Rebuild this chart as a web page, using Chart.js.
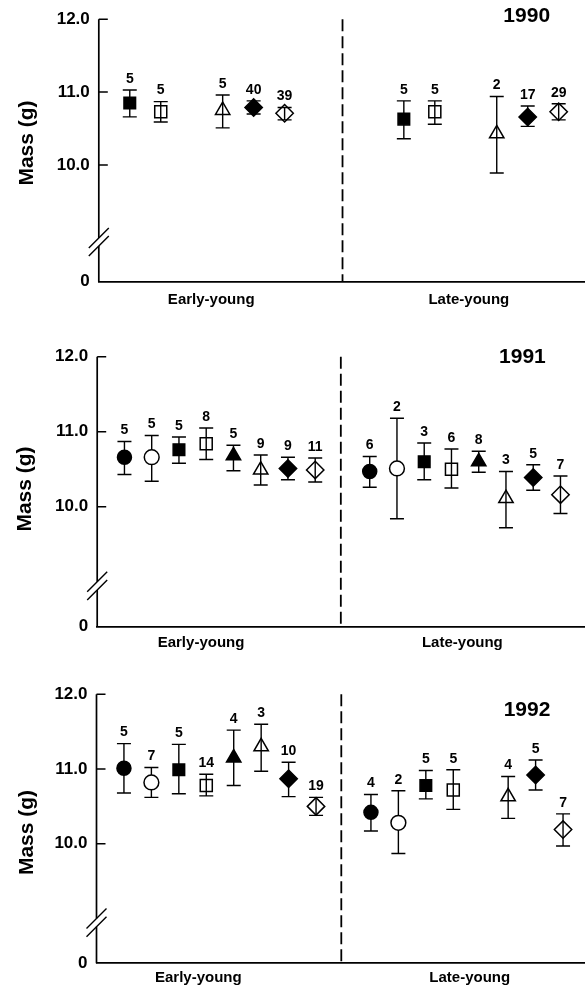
<!DOCTYPE html>
<html><head><meta charset="utf-8">
<script src="https://cdn.jsdelivr.net/npm/chart.js@4.4.0/dist/chart.umd.min.js"></script>
<style>
html,body{margin:0;padding:0;background:#fff;}
#wrap{position:relative;width:585px;height:989px;overflow:hidden;background:#fff;}
.panel{position:absolute;left:0;width:585px;}
canvas{display:block;}
</style></head><body>
<div id="wrap">
<div class="panel" style="top:0;height:320px"><canvas id="c1990" width="585" height="320"></canvas></div>
<div class="panel" style="top:320px;height:340px"><canvas id="c1991" width="585" height="340"></canvas></div>
<div class="panel" style="top:660px;height:329px"><canvas id="c1992" width="585" height="329"></canvas></div>
</div>
<script>
// ---------- DATA ----------
const markerTypes = ['Filled circle','Open circle','Filled square','Open square','Filled triangle','Open triangle','Filled diamond','Open diamond'];
const groupLabels = ['Early-young','Late-young'];
const years = ['1990','1991','1992'];
const yTickValues = [8.4, 10, 11, 12];      // 8.4 = bottom of broken axis, labelled "0"
const yTickLabels = ['0','10.0','11.0','12.0'];
const yAxisLabel = 'Mass (g)';

// 1990
const mean1990Early = [null, null, 10.85, 10.73, null, 10.75, 10.79, 10.71];
const low1990Early  = [null, null, 10.66, 10.59, null, 10.51, 10.70, 10.62];
const high1990Early = [null, null, 11.03, 10.87, null, 10.96, 10.88, 10.79];
const n1990Early    = [null, null, 5, 5, null, 5, 40, 39];
const mean1990Late  = [null, null, 10.63, 10.73, null, 10.43, 10.66, 10.73];
const low1990Late   = [null, null, 10.36, 10.56, null, 9.89, 10.53, 10.62];
const high1990Late  = [null, null, 10.88, 10.88, null, 10.94, 10.81, 10.84];
const n1990Late     = [null, null, 5, 5, null, 2, 17, 29];

// 1991
const mean1991Early = [10.66, 10.66, 10.76, 10.84, 10.68, 10.49, 10.51, 10.49];
const low1991Early  = [10.43, 10.34, 10.58, 10.63, 10.48, 10.29, 10.36, 10.33];
const high1991Early = [10.87, 10.95, 10.93, 11.05, 10.82, 10.69, 10.66, 10.65];
const n1991Early    = [5, 5, 5, 8, 5, 9, 9, 11];
const mean1991Late  = [10.47, 10.51, 10.60, 10.50, 10.60, 10.11, 10.39, 10.16];
const low1991Late   = [10.26, 9.84, 10.36, 10.25, 10.46, 9.72, 10.22, 9.91];
const high1991Late  = [10.67, 11.18, 10.85, 10.77, 10.74, 10.47, 10.56, 10.41];
const n1991Late     = [6, 2, 3, 6, 8, 3, 5, 7];

// 1992
const mean1992Early = [11.01, 10.82, 10.99, 10.78, 11.15, 11.30, 10.87, 10.50];
const low1992Early  = [10.68, 10.62, 10.67, 10.64, 10.78, 10.97, 10.63, 10.38];
const high1992Early = [11.34, 11.02, 11.33, 10.93, 11.52, 11.60, 11.09, 10.62];
const n1992Early    = [5, 7, 5, 14, 4, 3, 10, 19];
const mean1992Late  = [10.42, 10.28, 10.78, 10.72, null, 10.63, 10.92, 10.19];
const low1992Late   = [10.17, 9.87, 10.60, 10.46, null, 10.34, 10.72, 9.97];
const high1992Late  = [10.66, 10.71, 10.98, 10.99, null, 10.90, 11.12, 10.40];
const n1992Late     = [4, 2, 5, 5, null, 4, 5, 7];

// ---------- STYLE / LAYOUT ----------
const FONT = "'Liberation Sans', Arial, Helvetica, sans-serif";
const markerStyle = [
  {style:'circle',   fill:'#000', r:7.0},
  {style:'circle',   fill:'#fff', r:7.4},
  {style:'rect',     fill:'#000', r:8.2},
  {style:'rect',     fill:'rgba(0,0,0,0)', r:8.5},
  {style:'triangle', fill:'#000', r:8.3},
  {style:'triangle', fill:'rgba(0,0,0,0)', r:8.3},
  {style:'rectRot',  fill:'#000', r:8.7},
  {style:'rectRot',  fill:'rgba(0,0,0,0)', r:8.7}
];

const panels = [
  {id:'c1990', year:years[0], h:320, top:12.3, bottom:281.7, left:98.8,
   xMax:15.7, earlyOffset:-1, lateOffset:7.85, divider:7.87, groupX:[3.63, 11.95], groupY:300,
   titleX:526.7, titleY:16, ylabX:27, ylabY:143, breakVals:[9.0, 8.89],
   early:[mean1990Early, low1990Early, high1990Early, n1990Early],
   late:[mean1990Late, low1990Late, high1990Late, n1990Late]},
  {id:'c1991', year:years[1], h:340, top:36.7, bottom:306.7, left:97.2,
   xMax:17.9, earlyOffset:1, lateOffset:10, divider:8.94, groupX:[3.81, 13.4], groupY:322.7,
   titleX:522.4, titleY:37.5, ylabX:25, ylabY:169, breakVals:[9.0, 8.89],
   early:[mean1991Early, low1991Early, high1991Early, n1991Early],
   late:[mean1991Late, low1991Late, high1991Late, n1991Late]},
  {id:'c1992', year:years[2], h:329, top:34.3, bottom:303.3, left:96.5,
   xMax:17.8, earlyOffset:1, lateOffset:10, divider:8.92, groupX:[3.71, 13.6], groupY:317.7,
   titleX:527, titleY:50.7, ylabX:27, ylabY:172.5, breakVals:[9.0, 8.89],
   early:[mean1992Early, low1992Early, high1992Early, n1992Early],
   late:[mean1992Late, low1992Late, high1992Late, n1992Late]}
];

function buildDatasets(p){
  return markerTypes.map((name,k)=>{
    const pts=[];
    [[p.early,p.earlyOffset],[p.late,p.lateOffset]].forEach(([g,off])=>{
      if(g[0][k]!=null) pts.push({x:k+off, y:g[0][k], lo:g[1][k], hi:g[2][k], n:g[3][k]});
    });
    const ms=markerStyle[k];
    return {label:name, data:pts, pointStyle:ms.style, pointRadius:ms.r, pointHoverRadius:ms.r,
      backgroundColor:ms.fill, borderColor:'#000', borderWidth:1.5, showLine:false, clip:false};
  });
}

function makePlugin(p){
  return {
    id:'decor'+p.year,
    beforeDatasetsDraw(chart){
      const ctx=chart.ctx, xs=chart.scales.x, ys=chart.scales.y;
      ctx.save(); ctx.strokeStyle='#000'; ctx.lineWidth=1.4;
      chart.data.datasets.forEach(ds=>ds.data.forEach(pt=>{
        const x=xs.getPixelForValue(pt.x), yl=ys.getPixelForValue(pt.lo), yh=ys.getPixelForValue(pt.hi);
        ctx.beginPath();
        ctx.moveTo(x,yl); ctx.lineTo(x,yh);
        ctx.moveTo(x-7,yl); ctx.lineTo(x+7,yl);
        ctx.moveTo(x-7,yh); ctx.lineTo(x+7,yh);
        ctx.stroke();
      }));
      ctx.restore();
    },
    afterDraw(chart){
      const ctx=chart.ctx, xs=chart.scales.x, ys=chart.scales.y, a=chart.chartArea;
      ctx.save();
      ctx.strokeStyle='#000'; ctx.fillStyle='#000';
      // y axis with break
      const ax=a.left;
      const b1=ys.getPixelForValue(p.breakVals[0]), b2=ys.getPixelForValue(p.breakVals[1]);
      ctx.lineWidth=1.7;
      ctx.beginPath();
      ctx.moveTo(ax,a.top); ctx.lineTo(ax,b1);
      ctx.moveTo(ax,b2); ctx.lineTo(ax,a.bottom);
      ctx.stroke();
      ctx.lineWidth=1.4;
      ctx.beginPath();
      ctx.moveTo(ax-10,b1+10); ctx.lineTo(ax+10,b1-10);
      ctx.moveTo(ax-10,b2+10); ctx.lineTo(ax+10,b2-10);
      ctx.stroke();
      // inward ticks
      ctx.lineWidth=1.5;
      ctx.beginPath();
      yTickValues.slice(1).forEach(v=>{const y=ys.getPixelForValue(v); ctx.moveTo(ax,y); ctx.lineTo(ax+9,y);});
      ctx.stroke();
      // dashed divider
      const dx=xs.getPixelForValue(p.divider);
      ctx.lineWidth=1.8; ctx.setLineDash([12,5]);
      ctx.beginPath(); ctx.moveTo(dx,a.top); ctx.lineTo(dx,a.bottom); ctx.stroke();
      ctx.setLineDash([]);
      // N labels
      ctx.font='bold 14px '+FONT; ctx.textAlign='center'; ctx.textBaseline='middle';
      chart.data.datasets.forEach(ds=>ds.data.forEach(pt=>{
        ctx.fillText(String(pt.n), xs.getPixelForValue(pt.x), ys.getPixelForValue(pt.hi)-11);
      }));
      // group labels
      ctx.font='bold 15px '+FONT;
      groupLabels.forEach((g,i)=>ctx.fillText(g, xs.getPixelForValue(p.groupX[i]), p.groupY));
      // year title
      ctx.font='bold 21px '+FONT;
      ctx.fillText(p.year, p.titleX, p.titleY);
      // y axis title
      ctx.translate(p.ylabX, p.ylabY); ctx.rotate(-Math.PI/2);
      ctx.font='bold 21px '+FONT;
      ctx.fillText(yAxisLabel, 0, 0);
      ctx.restore();
    }
  };
}

panels.forEach(p=>{
  new Chart(document.getElementById(p.id), {
    type:'scatter',
    data:{datasets:buildDatasets(p)},
    options:{
      responsive:false, animation:false, devicePixelRatio:1,
      layout:{autoPadding:false, padding:{top:p.top, left:0, right:0, bottom:0}},
      plugins:{legend:{display:false}, tooltip:{enabled:false}, title:{display:false}},
      scales:{
        x:{type:'linear', min:0, max:p.xMax,
           ticks:{display:false}, grid:{display:false, drawTicks:false},
           border:{display:true, color:'#000', width:1.7},
           afterFit:s=>{s.height=p.h-p.bottom;}},
        y:{type:'linear', min:yTickValues[0], max:12,
           afterBuildTicks:s=>{s.ticks=yTickValues.map(v=>({value:v}));},
           ticks:{callback:(v,i)=>yTickLabels[i], color:'#000', padding:9,
                  font:{family:FONT, size:17, weight:'bold'}},
           grid:{display:false, drawTicks:false},
           border:{display:false},
           afterFit:s=>{s.width=p.left;}}
      }
    },
    plugins:[makePlugin(p)]
  });
});
</script>
</body></html>
